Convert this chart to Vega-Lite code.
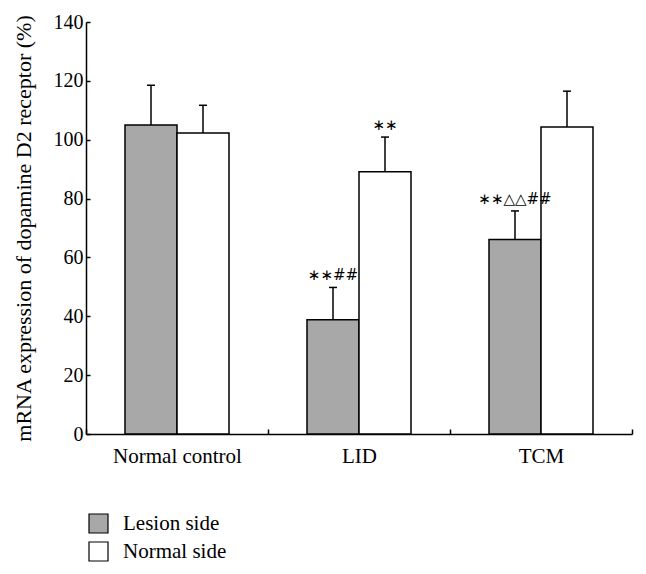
{
  "$schema": "https://vega.github.io/schema/vega-lite/v6.json",
  "width": 546,
  "height": 412,
  "autosize": "none",
  "padding": {"left": 86, "top": 22, "right": 14, "bottom": 140},
  "background": "white",
  "config": {
    "font": "Liberation Serif",
    "view": {"stroke": null},
    "axis": {
      "domainColor": "black",
      "domainWidth": 1.5,
      "tickColor": "black",
      "tickWidth": 1.5,
      "labelColor": "black",
      "labelFont": "Liberation Serif",
      "labelFontSize": 20,
      "titleFont": "Liberation Serif",
      "titleFontSize": 22,
      "titleFontWeight": "normal",
      "titleColor": "black",
      "grid": false
    }
  },
  "data": {
    "values": [
      {"group": "Normal control", "side": "Lesion side", "value": 105.0, "upper": 118.5, "sig": ""},
      {"group": "Normal control", "side": "Normal side", "value": 102.3, "upper": 111.7, "sig": ""},
      {"group": "LID", "side": "Lesion side", "value": 38.8, "upper": 49.8, "sig": "∗∗##"},
      {"group": "LID", "side": "Normal side", "value": 89.1, "upper": 100.9, "sig": "∗∗"},
      {"group": "TCM", "side": "Lesion side", "value": 66.1, "upper": 75.8, "sig": "∗∗△△##"},
      {"group": "TCM", "side": "Normal side", "value": 104.3, "upper": 116.5, "sig": ""}
    ]
  },
  "encoding": {
    "x": {
      "field": "group",
      "type": "nominal",
      "sort": ["Normal control", "LID", "TCM"],
      "scale": {"paddingInner": 0, "paddingOuter": 0},
      "axis": {"title": null, "labelAngle": 0, "tickBand": "extent", "tickSize": -5, "labelPadding": 16, "labelFontSize": 21}
    },
    "xOffset": {
      "field": "side",
      "type": "nominal",
      "sort": ["Lesion side", "Normal side"],
      "scale": {"paddingInner": 0, "paddingOuter": 0.75}
    }
  },
  "layer": [
    {
      "mark": {"type": "bar", "stroke": "black", "strokeWidth": 1.5},
      "encoding": {
        "y": {
          "field": "value",
          "type": "quantitative",
          "scale": {"domain": [0, 140], "nice": false},
          "axis": {
            "title": "mRNA expression of dopamine D2 receptor (%)",
            "values": [0, 20, 40, 60, 80, 100, 120, 140],
            "tickSize": -4,
            "labelPadding": 7,
            "titlePadding": 18
          }
        },
        "color": {
          "field": "side",
          "type": "nominal",
          "scale": {"domain": ["Lesion side", "Normal side"], "range": ["#a8a8a8", "white"]},
          "legend": {
            "title": null,
            "orient": "none",
            "legendX": 2,
            "legendY": 491,
            "padding": 0,
            "symbolType": "square",
            "symbolSize": 361,
            "symbolStrokeColor": "black",
            "symbolStrokeWidth": 1.2,
            "symbolOpacity": 1,
            "labelFontSize": 21,
            "labelFont": "Liberation Serif",
            "labelColor": "black",
            "labelOffset": 14,
            "rowPadding": 3
          }
        }
      }
    },
    {
      "mark": {"type": "rule", "strokeWidth": 1.5, "color": "black"},
      "encoding": {
        "y": {"field": "value", "type": "quantitative"},
        "y2": {"field": "upper"}
      }
    },
    {
      "mark": {"type": "tick", "orient": "horizontal", "thickness": 1.5, "size": 8, "color": "black", "opacity": 1},
      "encoding": {
        "y": {"field": "upper", "type": "quantitative"}
      }
    },
    {
      "mark": {"type": "text", "baseline": "middle", "dy": -12, "fontSize": 15, "font": "DejaVu Sans", "color": "black"},
      "encoding": {
        "y": {"field": "upper", "type": "quantitative"},
        "text": {"field": "sig"}
      }
    }
  ]
}
